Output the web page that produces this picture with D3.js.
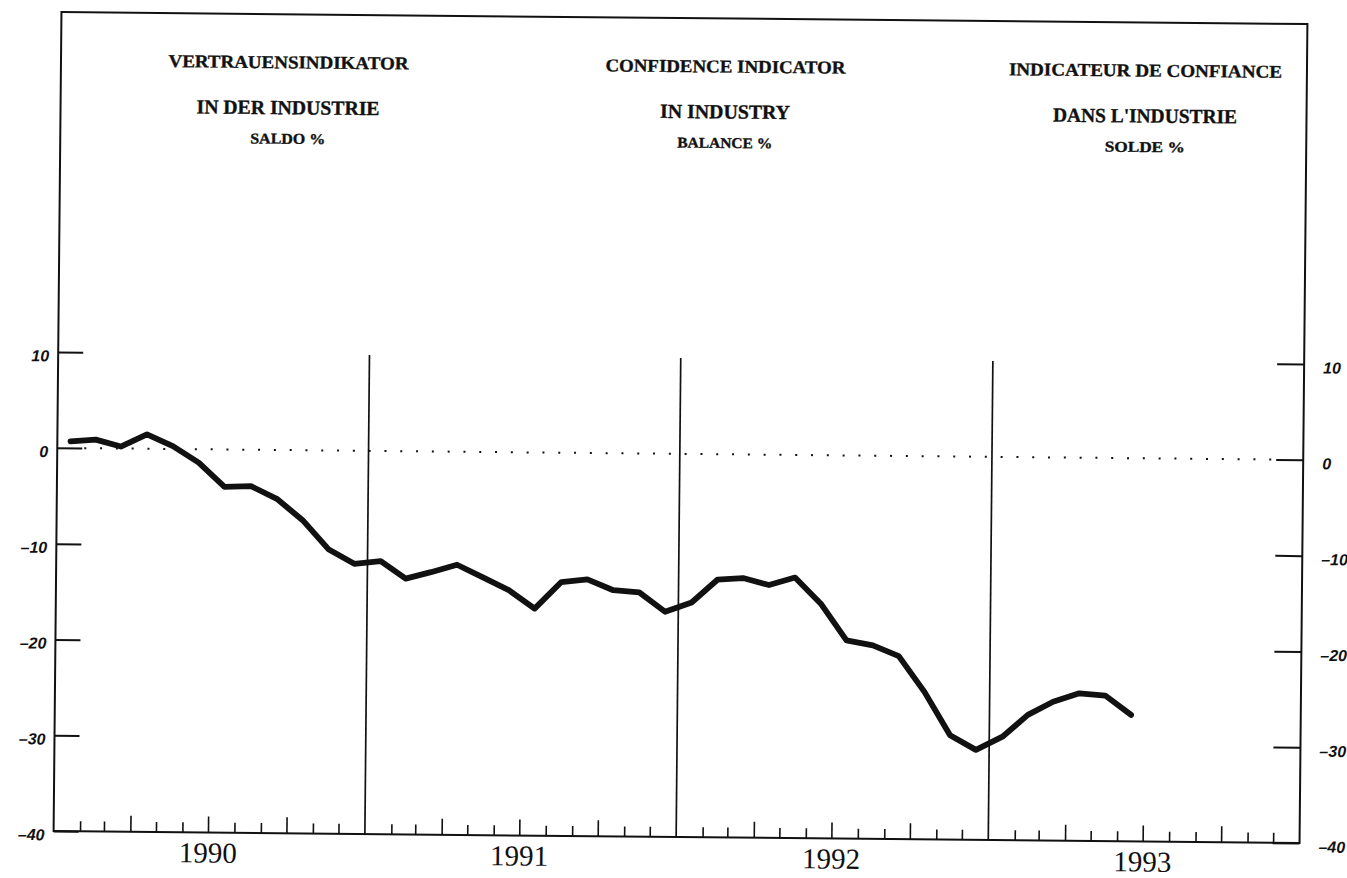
<!DOCTYPE html>
<html><head><meta charset="utf-8">
<script src="https://cdn.jsdelivr.net/npm/d3@7"></script>
<style>html,body{margin:0;padding:0;background:#fff;} svg{display:block}</style>
</head><body><svg id="c" width="1347" height="878"></svg>
<script>
// ---- data ----
const months = [
  "1990-01","1990-02","1990-03","1990-04","1990-05","1990-06","1990-07","1990-08","1990-09","1990-10","1990-11","1990-12",
  "1991-01","1991-02","1991-03","1991-04","1991-05","1991-06","1991-07","1991-08","1991-09","1991-10","1991-11","1991-12",
  "1992-01","1992-02","1992-03","1992-04","1992-05","1992-06","1992-07","1992-08","1992-09","1992-10","1992-11","1992-12",
  "1993-01","1993-02","1993-03","1993-04","1993-05","1993-06"
];
const values = [
  0.7, 0.9, 0.2, 1.5, 0.3, -1.4, -3.9, -3.8, -5.1, -7.3, -10.3, -11.8,
  -11.5, -13.3, -12.6, -11.8, -13.1, -14.4, -16.3, -13.5, -13.2, -14.3, -14.5, -16.5,
  -15.5, -13.1, -12.9, -13.6, -12.8, -15.5, -19.3, -19.8, -20.9, -24.6, -29.1, -30.6,
  -29.2, -26.9, -25.5, -24.6, -24.8, -26.8
];
const yearLabels = ["1990","1991","1992","1993"];
const yTickValues = [10, 0, -10, -20, -30, -40];
const titleDE = ["VERTRAUENSINDIKATOR","IN DER INDUSTRIE","SALDO %"];
const titleEN = ["CONFIDENCE INDICATOR","IN INDUSTRY","BALANCE %"];
const titleFR = ["INDICATEUR DE CONFIANCE","DANS L'INDUSTRIE","SOLDE %"];

// ---- layout ----
const svg = d3.select("#c");
const g = svg.append("g").attr("transform","rotate(0.55,675,428)");
const parse = d3.timeParse("%Y-%m");
const x0 = 57.5, x1 = 1303.5, yTop = 18;
const x = d3.scaleTime().domain([new Date(1990,0,1), new Date(1994,0,1)]).range([x0, x1]);
const y = d3.scaleLinear().domain([-40, 10]).range([837, 358]);
const ink = "#111";

// frame
g.append("path")
  .attr("d", `M${x0},${y(-40)}L${x0},${yTop}L${x1},${yTop}L${x1},${y(-40)}Z`)
  .attr("fill","none").attr("stroke",ink).attr("stroke-width",2);

// y axes
const fmt = d => d < 0 ? "\u2013" + Math.abs(d) : d;
const la = g.append("g").attr("transform",`translate(${x0},0)`)
  .call(d3.axisLeft(y).tickValues(yTickValues).tickSizeInner(-25).tickSizeOuter(0).tickPadding(9).tickFormat(fmt));
const ra = g.append("g").attr("transform",`translate(${x1},0)`)
  .call(d3.axisRight(y).tickValues(yTickValues).tickSizeInner(-27).tickSizeOuter(0).tickPadding(19).tickFormat(fmt));
[la, ra].forEach(a => {
  a.select(".domain").remove();
  a.selectAll(".tick line").attr("stroke",ink).attr("stroke-width",2);
  a.selectAll(".tick text").attr("fill",ink)
    .style("font-family","'Liberation Sans', Arial, sans-serif")
    .style("font-weight","bold").style("font-style","italic").style("font-size","16px")
    .attr("dy","0.55em");
});

// bottom month ticks
const monthTicks = d3.timeMonth.range(new Date(1990,1,1), new Date(1994,0,1)).filter(d => d.getMonth() !== 0);
const ba = g.append("g").attr("transform",`translate(0,${y(-40)})`)
  .call(d3.axisBottom(x).tickValues(monthTicks).tickSizeInner(-10).tickSizeOuter(0).tickFormat(""));
ba.select(".domain").remove();
ba.selectAll(".tick line").attr("stroke",ink).attr("stroke-width",1.6)
  .attr("y2", d => (d.getMonth() % 3 === 0) ? -16 : -10);

// year boundary lines
const yearStarts = d3.timeYear.range(new Date(1991,0,1), new Date(1994,0,1));
g.selectAll(".yl").data(yearStarts).join("line")
  .attr("x1", d => x(d)).attr("x2", d => x(d))
  .attr("y1", y(-40)).attr("y2", y(10))
  .attr("stroke", ink).attr("stroke-width", 1.7);

// year labels
g.selectAll(".yt").data(yearLabels).join("text")
  .attr("x", d => x(new Date(+d, 6, 1)))
  .attr("y", 867)
  .attr("text-anchor","middle")
  .attr("textLength", 58).attr("lengthAdjust","spacingAndGlyphs")
  .style("font-family","'Liberation Serif', 'Times New Roman', serif")
  .style("font-size","29px").attr("fill",ink)
  .text(d => d);

// zero dotted line
g.append("line")
  .attr("x1", x0 + 27).attr("x2", x1 - 27)
  .attr("y1", y(0)).attr("y2", y(0))
  .attr("stroke", ink).attr("stroke-width", 2)
  .attr("stroke-dasharray","2,13.8");

// series line
const mid = m => { const d = parse(m); return new Date((+d + +d3.timeMonth.offset(d,1)) / 2); };
const line = d3.line().x((d,i) => x(mid(months[i]))).y(d => y(d));
g.append("path").datum(values)
  .attr("d", line)
  .attr("fill","none").attr("stroke",ink).attr("stroke-width",5.8)
  .attr("stroke-linejoin","round").attr("stroke-linecap","round");

// titles
const blocks = [
  {t: titleDE, cx: 285, w: [240, 183, 75]},
  {t: titleEN, cx: 722, w: [240, 130, 95]},
  {t: titleFR, cx: 1142, w: [273, 184, 80]}
];
const baselines = [72, 118, 147.5];
const sizes = [18, 20, 15];
blocks.forEach(b => {
  b.t.forEach((s, i) => {
    g.append("text")
      .attr("x", b.cx).attr("y", baselines[i])
      .attr("text-anchor","middle")
      .attr("textLength", b.w[i]).attr("lengthAdjust","spacingAndGlyphs")
      .style("font-family","'Liberation Serif', 'Times New Roman', serif")
      .style("font-weight","bold")
      .style("font-size", sizes[i] + "px")
      .attr("fill", ink).attr("stroke", ink).attr("stroke-width", 0.35)
      .text(s);
  });
});
</script>
</body></html>
